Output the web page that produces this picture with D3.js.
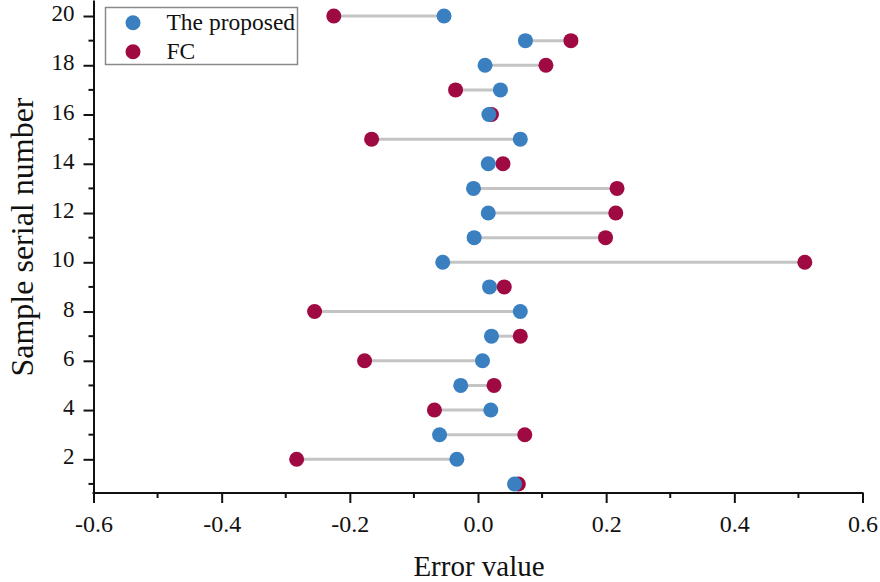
<!DOCTYPE html>
<html>
<head>
<meta charset="utf-8">
<script src="https://cdn.jsdelivr.net/npm/d3@7"></script>
<style>
  html, body { margin: 0; padding: 0; background: #fff; }
  svg { display: block; font-family: "Liberation Serif", "Times New Roman", serif; }
</style>
</head>
<body>
<svg id="chart" width="880" height="582"></svg>
<script>
// Sample index and per-sample error of each method
const samples = d3.range(1, 21);
const proposed = [0.057, -0.033, -0.060, 0.020, -0.027, 0.007, 0.021, 0.066, 0.018, -0.055,
                  -0.006, 0.016, -0.007, 0.016, 0.066, 0.017, 0.035, 0.011, 0.074, -0.053];
const fc = [0.063, -0.283, 0.073, -0.068, 0.025, -0.177, 0.066, -0.255, 0.041, 0.510,
            0.199, 0.215, 0.217, 0.039, -0.166, 0.021, -0.035, 0.106, 0.145, -0.225];
const seriesNames = ["The proposed", "FC"];
const xTicks = [-0.6, -0.4, -0.2, 0.0, 0.2, 0.4, 0.6];
const xMinor = [-0.5, -0.3, -0.1, 0.1, 0.3, 0.5];
const yTicks = [2, 4, 6, 8, 10, 12, 14, 16, 18, 20];
const yMinor = [1, 3, 5, 7, 9, 11, 13, 15, 17, 19];

const colors = { proposed: "#3a7fc0", fc: "#a00a42", link: "#c4c4c4" };
const ink = "#111";

const svg = d3.select("#chart");
const x = d3.scaleLinear().domain([-0.6, 0.6]).range([93.5, 862.5]);
const y = d3.scaleLinear().domain([0.632, 20.65]).range([493, 0]);

const rows = samples.map((s, i) => ({ s, p: proposed[i], f: fc[i] }));

// Connectors between the two estimates
svg.append("g").selectAll("line").data(rows).join("line")
  .attr("x1", d => x(d.p)).attr("x2", d => x(d.f))
  .attr("y1", d => y(d.s)).attr("y2", d => y(d.s))
  .attr("stroke", colors.link).attr("stroke-width", 3);

// FC dots, then the proposed method on top
svg.append("g").selectAll("circle").data(rows).join("circle")
  .attr("cx", d => x(d.f)).attr("cy", d => y(d.s)).attr("r", 7.5)
  .attr("fill", colors.fc);
svg.append("g").selectAll("circle").data(rows).join("circle")
  .attr("cx", d => x(d.p)).attr("cy", d => y(d.s)).attr("r", 7.5)
  .attr("fill", colors.proposed);

// Plain hyphen-minus for negative tick labels
const fmt = d => d3.format(".1f")(d).replace("\u2212", "-");

// X axis
const xAxis = svg.append("g").attr("transform", `translate(0,${y.range()[0]})`);
xAxis.call(d3.axisBottom(x).tickValues(xTicks).tickSize(10).tickSizeOuter(0)
    .tickFormat(fmt).tickPadding(12))
  .call(g => g.select(".domain").attr("stroke-width", 2).attr("stroke", ink))
  .call(g => g.selectAll(".tick line").attr("stroke-width", 2).attr("stroke", ink))
  .call(g => g.selectAll(".tick text").attr("font-size", 24).attr("font-family", "Liberation Serif, serif").attr("fill", ink));
xAxis.append("g").selectAll("line").data(xMinor).join("line")
  .attr("x1", d => x(d)).attr("x2", d => x(d)).attr("y1", 0).attr("y2", 5)
  .attr("stroke", ink).attr("stroke-width", 2);
xAxis.select(".domain").attr("d", `M${x.range()[0] - 1},0H${x.range()[1] + 1}`);

// Y axis
const yAxis = svg.append("g").attr("transform", `translate(${x.range()[0]},0)`);
yAxis.call(d3.axisLeft(y).tickValues(yTicks).tickSize(10).tickSizeOuter(0).tickPadding(9))
  .call(g => g.select(".domain").attr("stroke-width", 2).attr("stroke", ink))
  .call(g => g.selectAll(".tick line").attr("stroke-width", 2).attr("stroke", ink))
  .call(g => g.selectAll(".tick text").attr("font-size", 23).attr("font-family", "Liberation Serif, serif")
    .attr("fill", ink).attr("dy", "0.2em"));
yAxis.append("g").selectAll("line").data(yMinor).join("line")
  .attr("y1", d => y(d)).attr("y2", d => y(d)).attr("x1", 0).attr("x2", -5)
  .attr("stroke", ink).attr("stroke-width", 2);

// Axis titles
svg.append("text").attr("x", 479).attr("y", 576).attr("text-anchor", "middle")
  .attr("font-size", 29).attr("fill", ink).text("Error value");
svg.append("text").attr("transform", "translate(33,237) rotate(-90)").attr("text-anchor", "middle")
  .attr("font-size", 32).attr("fill", ink).text("Sample serial number");

// Legend
const legend = svg.append("g");
legend.append("rect").attr("x", 105.5).attr("y", 7.5).attr("width", 192).attr("height", 57)
  .attr("fill", "#fff").attr("stroke", "#8a8a8a").attr("stroke-width", 1.5);
const items = [{ name: seriesNames[0], color: colors.proposed }, { name: seriesNames[1], color: colors.fc }];
items.forEach((it, i) => {
  const cy = 22.7 + i * 29;
  legend.append("circle").attr("cx", 133).attr("cy", cy).attr("r", 7.5).attr("fill", it.color);
  legend.append("text").attr("x", 166.5).attr("y", cy + 7.5).attr("font-size", 23.5)
    .attr("fill", ink).text(it.name);
});
</script>
</body>
</html>
